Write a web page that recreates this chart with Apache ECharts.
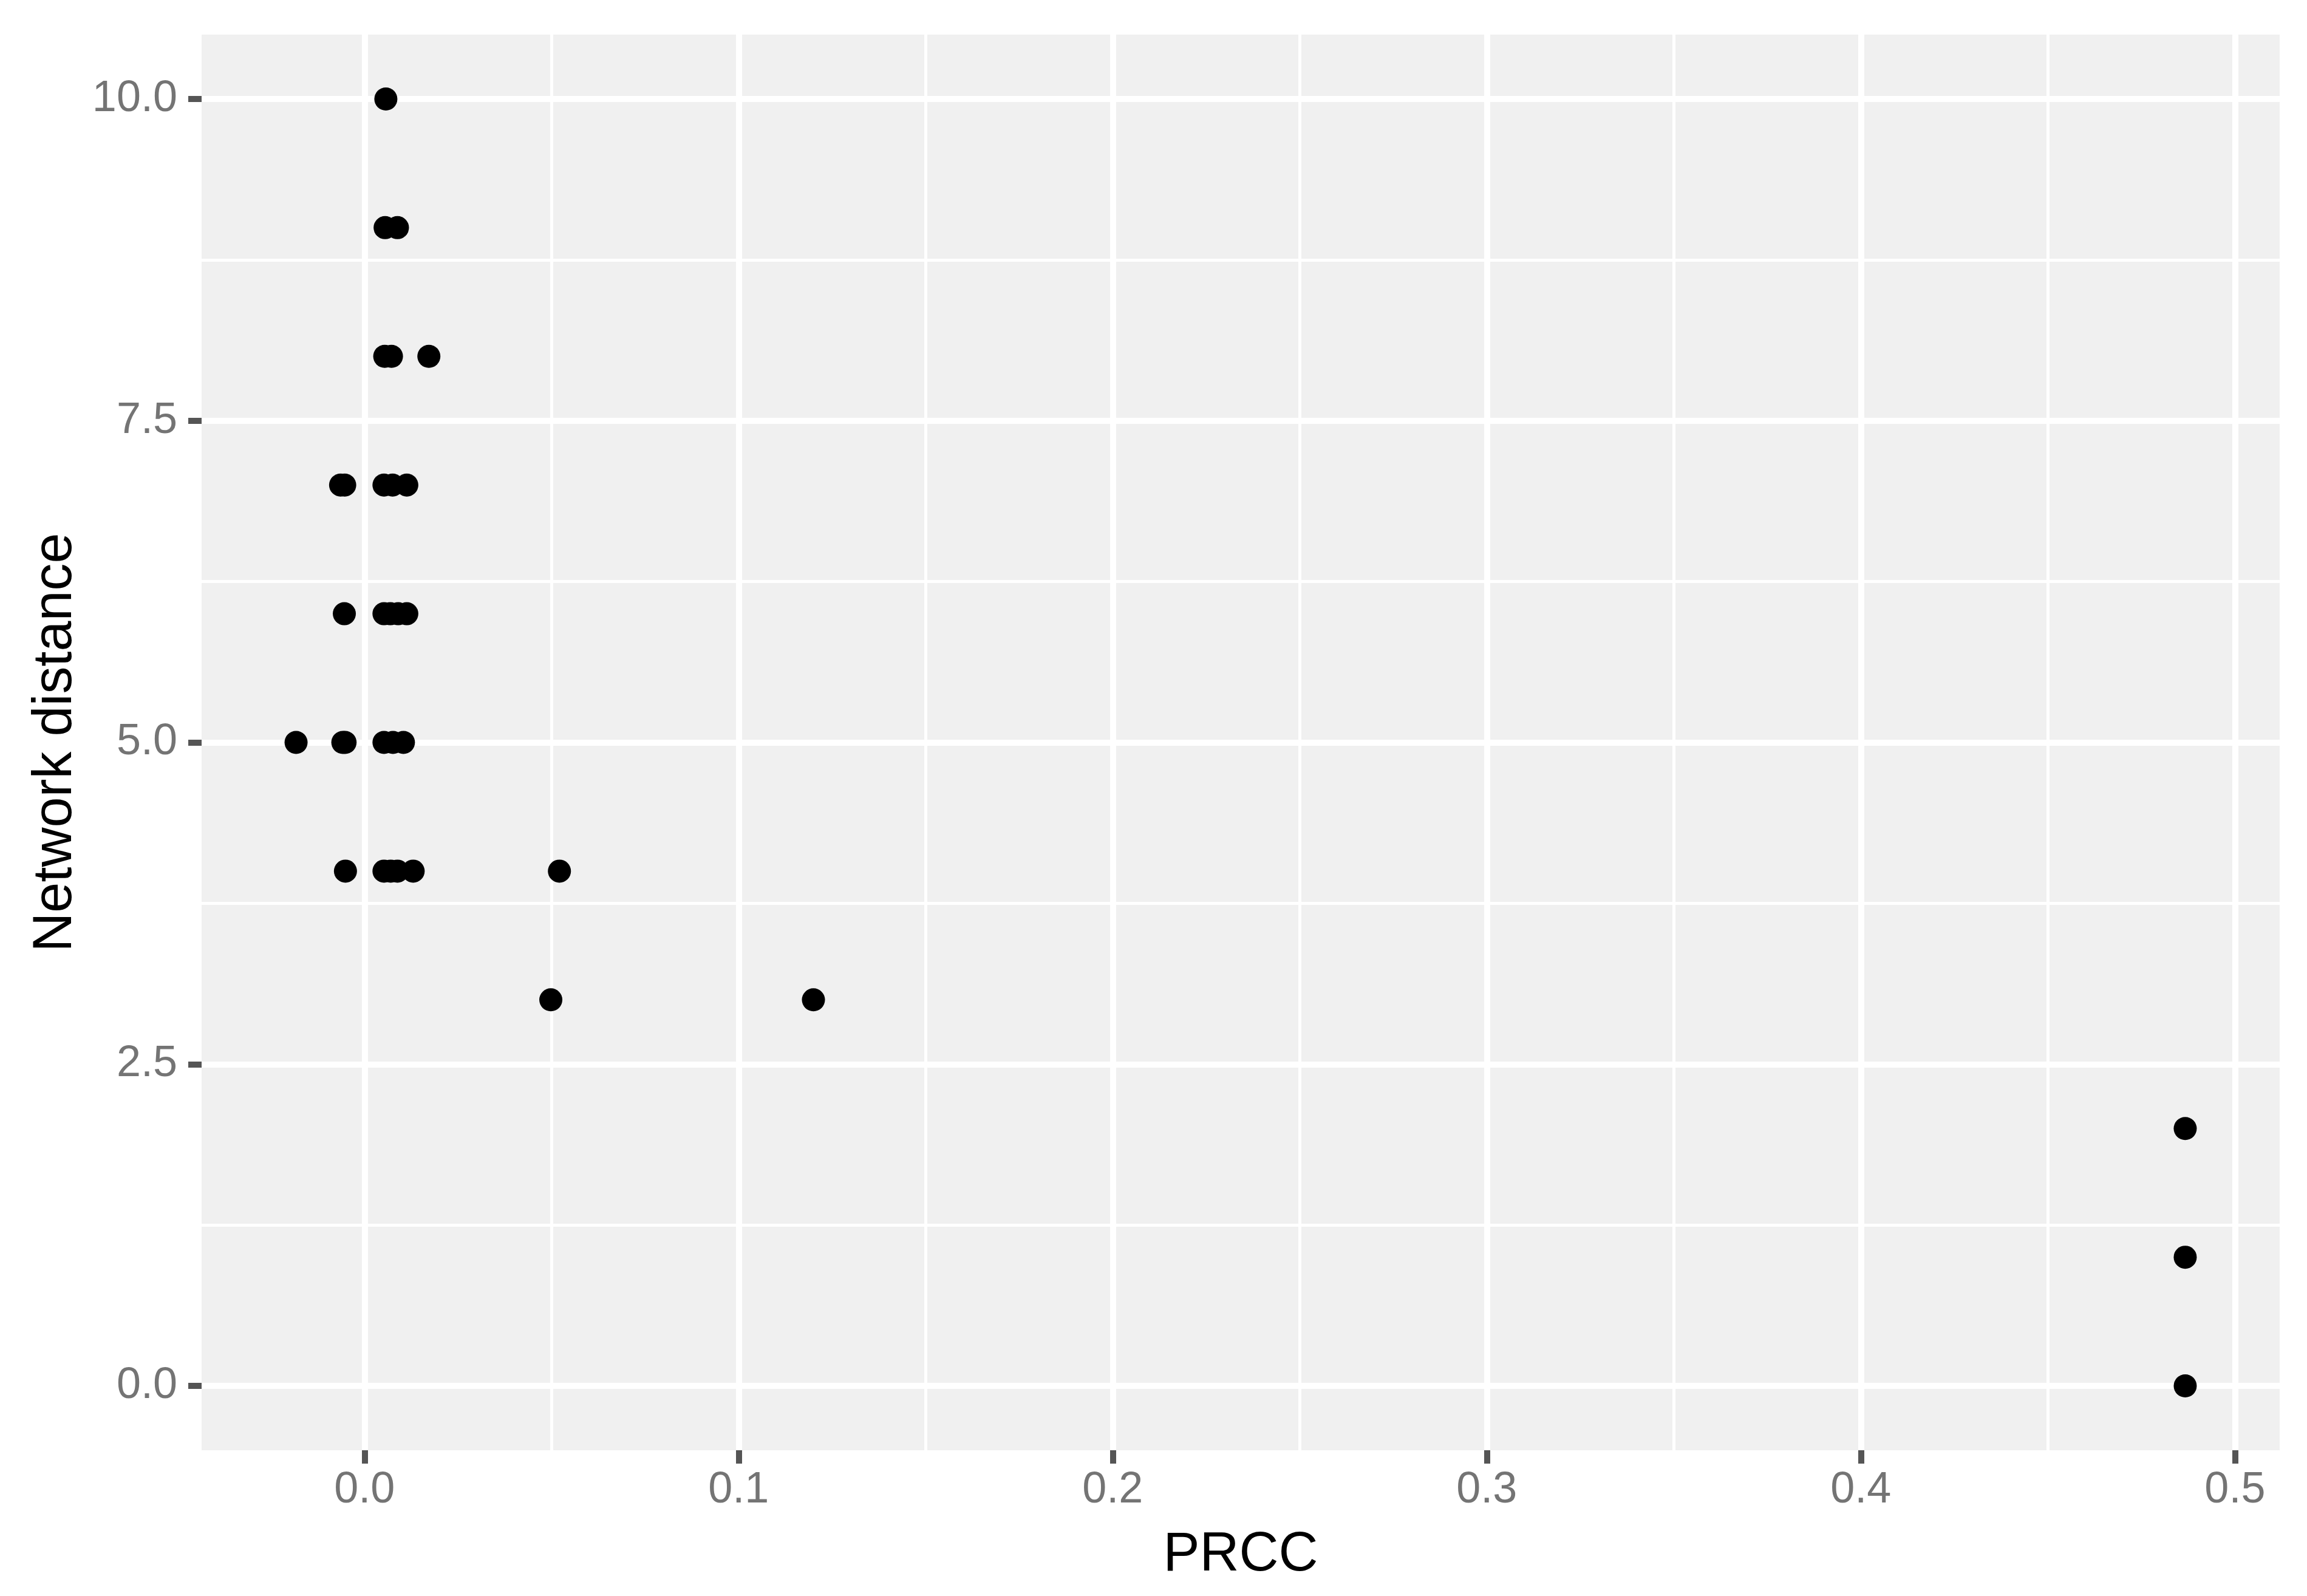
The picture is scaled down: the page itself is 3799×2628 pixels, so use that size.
<!DOCTYPE html>
<html>
<head>
<meta charset="utf-8">
<script src="https://cdn.jsdelivr.net/npm/echarts@6/dist/echarts.min.js"></script>
<style>
html,body{margin:0;padding:0;background:#fff;}
#chart{width:3799px;height:2628px;}
</style>
</head>
<body>
<div id="chart"></div>
<script>
// Data
var prcc = [
  0.0057,
  0.0055, 0.0088,
  0.0054, 0.0072, 0.0172,
  -0.0064, -0.0053, 0.0052, 0.0075, 0.0113,
  -0.0054, 0.0052, 0.0069, 0.0090, 0.0113,
  -0.0183, -0.0058, -0.0052, 0.0052, 0.0076, 0.0104,
  -0.0051, 0.0052, 0.0070, 0.0088, 0.0130, 0.0521,
  0.0498, 0.1200,
  0.4867,
  0.4867,
  0.4867
];
var distance = [
  10,
  9, 9,
  8, 8, 8,
  7, 7, 7, 7, 7,
  6, 6, 6, 6, 6,
  5, 5, 5, 5, 5, 5,
  4, 4, 4, 4, 4, 4,
  3, 3,
  2,
  1,
  0
];
var xTicks = [0.0, 0.1, 0.2, 0.3, 0.4, 0.5];
var xMinor = [0.05, 0.15, 0.25, 0.35, 0.45];
var yTicks = [0.0, 2.5, 5.0, 7.5, 10.0];
var yMinor = [1.25, 3.75, 6.25, 8.75];
var xTitle = 'PRCC';
var yTitle = 'Network distance';

// ggplot-style 5% expansion of the data range
function expand(arr) {
  var lo = Math.min.apply(null, arr), hi = Math.max.apply(null, arr);
  var s = hi - lo;
  return [lo - 0.05 * s, hi + 0.05 * s];
}
var xr = expand(prcc), yr = expand(distance);

var points = prcc.map(function (v, i) { return [v, distance[i]]; });

var font = 'Liberation Sans, Arial, sans-serif';
var labelColor = '#747474';
var tickColor = '#555555';

function lines(vals, key, width) {
  return vals.map(function (v) {
    var o = {}; o[key] = v;
    o.lineStyle = { color: '#ffffff', width: width, type: 'solid' };
    return o;
  });
}

var chart = echarts.init(document.getElementById('chart'), null, { renderer: 'canvas' });
chart.setOption({
  backgroundColor: '#ffffff',
  animation: false,
  grid: {
    left: 332, right: 45, top: 57, bottom: 240,
    show: true, backgroundColor: '#F0F0F0', borderWidth: 0
  },
  xAxis: {
    type: 'value',
    min: xr[0], max: xr[1],
    axisLine: { show: true, onZero: false, lineStyle: { color: 'rgba(0,0,0,0)', width: 1 } },
    splitLine: { show: false },
    axisTick: { show: true, customValues: xTicks, length: 22, lineStyle: { color: tickColor, width: 10 } },
    axisLabel: {
      show: true, customValues: xTicks, margin: 30,
      color: labelColor, fontSize: 72, fontFamily: font,
      formatter: function (v) { return v.toFixed(1); }
    },
    name: xTitle, nameLocation: 'middle', nameGap: 128,
    nameTextStyle: { color: '#000000', fontSize: 90, fontFamily: font }
  },
  yAxis: {
    type: 'value',
    min: yr[0], max: yr[1],
    axisLine: { show: true, onZero: false, lineStyle: { color: 'rgba(0,0,0,0)', width: 1 } },
    splitLine: { show: false },
    axisTick: { show: true, customValues: yTicks, length: 22, lineStyle: { color: tickColor, width: 10 } },
    axisLabel: {
      show: true, customValues: yTicks, margin: 40,
      color: labelColor, fontSize: 72, fontFamily: font,
      formatter: function (v) { return v.toFixed(1); }
    },
    name: yTitle, nameLocation: 'middle', nameGap: 195, nameRotate: 90,
    nameTextStyle: { color: '#000000', fontSize: 90, fontFamily: font }
  },
  series: [
    {
      type: 'scatter',
      data: [],
      z: 1,
      silent: true,
      markLine: {
        silent: true,
        symbol: ['none', 'none'],
        label: { show: false },
        animation: false,
        data: [].concat(
          lines(xMinor, 'xAxis', 5),
          lines(yMinor, 'yAxis', 5),
          lines(xTicks, 'xAxis', 10),
          lines(yTicks, 'yAxis', 10)
        )
      }
    },
    {
      type: 'scatter',
      data: points,
      z: 5,
      symbol: 'circle',
      symbolSize: 38,
      itemStyle: { color: '#000000', opacity: 1 }
    }
  ]
});
</script>
</body>
</html>
